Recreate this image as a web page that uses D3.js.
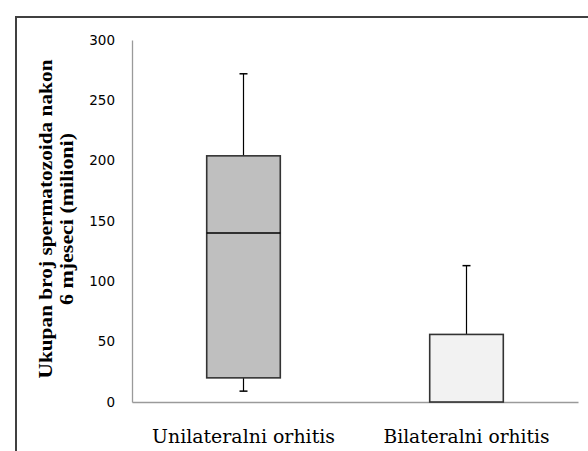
<!DOCTYPE html>
<html>
<head>
<meta charset="utf-8">
<script src="https://cdn.jsdelivr.net/npm/d3@7"></script>
<style>
  body { margin: 0; background: #fff; }
  svg { display: block; }
</style>
</head>
<body>
<div id="chart"></div>
<script>
// data
const categories = ['Unilateralni orhitis', 'Bilateralni orhitis']
const minValues = [9, 0]
const q1Values = [20, 0]
const medianValues = [140, 0]
const q3Values = [204, 56]
const maxValues = [272, 113]
const boxFills = ['#bfbfbf', '#f2f2f2']
const yTicks = [0, 50, 100, 150, 200, 250, 300]

const width = 588
const height = 451
const margin = { top: 40, right: 10, bottom: 49, left: 132 }
const plotW = 578 - margin.left

const svg = d3.select('#chart').append('svg')
  .attr('width', width)
  .attr('height', height)

// outer frame (runs off the right and bottom edges)
svg.append('rect')
  .attr('x', 16).attr('y', 17)
  .attr('width', 600).attr('height', 500)
  .attr('fill', 'none')
  .attr('stroke', '#404040')
  .attr('stroke-width', 2)

const g = svg.append('g')
  .attr('transform', `translate(${margin.left},${margin.top})`)

const x = d3.scaleBand().domain(categories).range([0, plotW])
const y = d3.scaleLinear().domain([0, 300]).range([362, 0])

// y axis
const yAxis = g.append('g')
  .call(d3.axisLeft(y).tickValues(yTicks).tickSize(0).tickPadding(17))
yAxis.select('.domain').attr('stroke', '#9a9a9a').attr('stroke-width', 1.3)
yAxis.selectAll('text')
  .attr('font-family', '"DejaVu Sans", "Open Sans", sans-serif')
  .attr('font-size', 13.5)
  .attr('fill', '#000')

// x axis
const xAxis = g.append('g')
  .attr('transform', `translate(0,${y(0)})`)
  .call(d3.axisBottom(x).tickSize(0).tickPadding(28))
xAxis.select('.domain').attr('stroke', '#9a9a9a').attr('stroke-width', 1.3)
xAxis.selectAll('text')
  .attr('font-family', '"DejaVu Serif", "Liberation Serif", serif')
  .attr('font-size', 18)
  .attr('fill', '#000')
  .attr('textLength', (d, i) => [183, 166][i])
  .attr('lengthAdjust', 'spacingAndGlyphs')

const boxW = x.bandwidth() * 0.33
const capW = 8
const rows = categories.map((c, i) => ({
  name: c,
  min: minValues[i], q1: q1Values[i], med: medianValues[i],
  q3: q3Values[i], max: maxValues[i], fill: boxFills[i]
}))

const box = g.selectAll('.box')
  .data(rows)
  .enter()
  .append('g')
  .attr('transform', (d) => `translate(${x(d.name) + x.bandwidth() / 2},0)`)

// whiskers
box.append('line')
  .attr('x1', 0).attr('x2', 0)
  .attr('y1', (d) => y(d.q3)).attr('y2', (d) => y(d.max))
  .attr('stroke', '#000').attr('stroke-width', 1.2)
box.append('line')
  .attr('x1', -capW / 2).attr('x2', capW / 2)
  .attr('y1', (d) => y(d.max)).attr('y2', (d) => y(d.max))
  .attr('stroke', '#000').attr('stroke-width', 1.5)
box.filter((d) => d.min < d.q1).append('line')
  .attr('x1', 0).attr('x2', 0)
  .attr('y1', (d) => y(d.q1)).attr('y2', (d) => y(d.min))
  .attr('stroke', '#000').attr('stroke-width', 1.2)
box.filter((d) => d.min < d.q1).append('line')
  .attr('x1', -capW / 2).attr('x2', capW / 2)
  .attr('y1', (d) => y(d.min)).attr('y2', (d) => y(d.min))
  .attr('stroke', '#000').attr('stroke-width', 1.5)

// boxes
box.append('rect')
  .attr('x', -boxW / 2)
  .attr('y', (d) => y(d.q3))
  .attr('width', boxW)
  .attr('height', (d) => y(d.q1) - y(d.q3))
  .attr('fill', (d) => d.fill)
  .attr('stroke', '#333')
  .attr('stroke-width', 1.6)

// medians
box.filter((d) => d.med > d.q1).append('line')
  .attr('x1', -boxW / 2).attr('x2', boxW / 2)
  .attr('y1', (d) => y(d.med)).attr('y2', (d) => y(d.med))
  .attr('stroke', '#000').attr('stroke-width', 1.5)

// y title
const title = svg.append('text')
  .attr('transform', 'translate(52,219) rotate(-90)')
  .attr('text-anchor', 'middle')
  .attr('font-family', '"Liberation Serif", "DejaVu Serif", serif')
  .attr('font-weight', 'bold')
  .attr('font-size', 19)
  .attr('fill', '#000')
title.append('tspan').attr('x', 0).attr('dy', 0)
  .attr('textLength', 319).attr('lengthAdjust', 'spacingAndGlyphs')
  .text('Ukupan broj spermatozoida nakon')
title.append('tspan').attr('x', 0).attr('dy', 21)
  .attr('textLength', 172).attr('lengthAdjust', 'spacingAndGlyphs')
  .text('6 mjeseci (milioni)')
</script>
</body>
</html>
